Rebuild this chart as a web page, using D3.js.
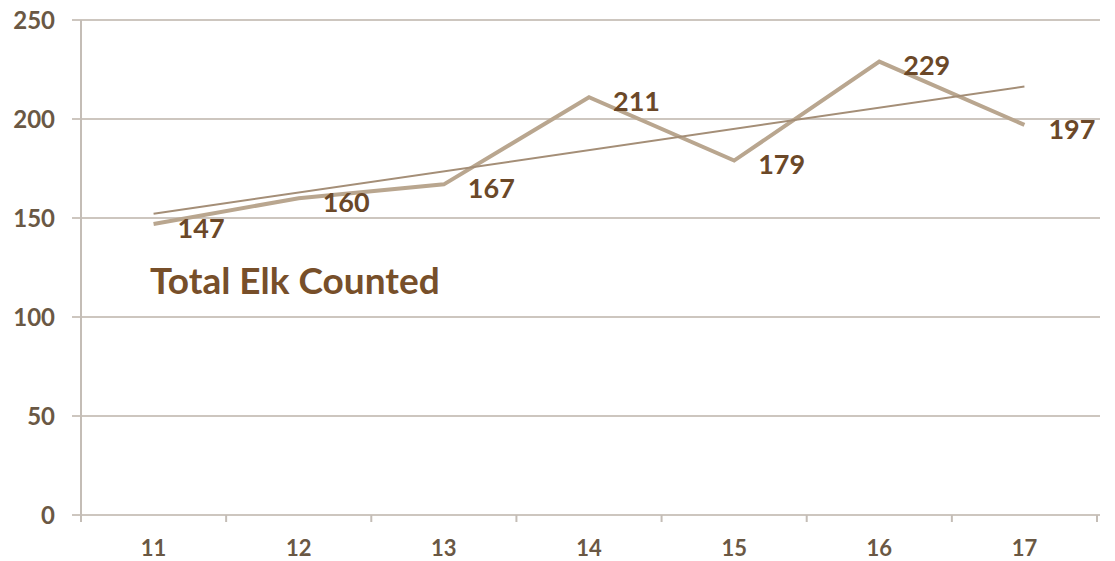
<!DOCTYPE html>
<html>
<head>
<meta charset="utf-8">
<script src="https://cdn.jsdelivr.net/npm/d3@7"></script>
<style>
  body { margin: 0; background: #fff; }
  text { font-family: Lato, "Open Sans", sans-serif; font-weight: bold; }
</style>
</head>
<body>
<svg id="chart"></svg>
<script>
// --------------------- data --------------------------
const years = ["11", "12", "13", "14", "15", "16", "17"];
const elkCounts = [147, 160, 167, 211, 179, 229, 197];
const yTicks = [0, 50, 100, 150, 200, 250];
const chartTitle = "Total Elk Counted";

// --------------------- layout --------------------------
const width = 1115, height = 561;
const plotLeft = 81, plotRight = 1097, plotTop = 20, plotBottom = 515;

const svg = d3.select("#chart")
  .attr("width", width)
  .attr("height", height);

const xScale = d3.scaleBand().domain(years).range([plotLeft, plotRight]);
const yScale = d3.scaleLinear().domain([0, 250]).range([plotBottom, plotTop]);
const cx = d => xScale(d) + xScale.bandwidth() / 2;

// grid lines
svg.append("g")
  .selectAll("line")
  .data(yTicks)
  .join("line")
  .attr("x1", plotLeft - 9)
  .attr("x2", plotRight + 3)
  .attr("y1", d => yScale(d))
  .attr("y2", d => yScale(d))
  .attr("stroke", "#cdc6bf")
  .attr("stroke-width", 2);

// y axis line
svg.append("line")
  .attr("x1", plotLeft).attr("x2", plotLeft)
  .attr("y1", plotTop).attr("y2", plotBottom + 6)
  .attr("stroke", "#c4bdb6")
  .attr("stroke-width", 2);

// y tick labels
svg.append("g")
  .selectAll("text")
  .data(yTicks)
  .join("text")
  .attr("x", 55)
  .attr("y", d => yScale(d))
  .attr("dy", "0.36em")
  .attr("text-anchor", "end")
  .attr("font-size", 24)
  .attr("fill", "#6a5844")
  .text(d => d);

// x axis: ticks between categories
const xBounds = years.map(d => xScale(d)).concat([plotRight]);
svg.append("g")
  .selectAll("line")
  .data(xBounds)
  .join("line")
  .attr("x1", d => d).attr("x2", d => d)
  .attr("y1", plotBottom).attr("y2", plotBottom + 7)
  .attr("stroke", "#c4bdb6")
  .attr("stroke-width", 2);

svg.append("g")
  .selectAll("text")
  .data(years)
  .join("text")
  .attr("x", d => cx(d))
  .attr("y", 556)
  .attr("text-anchor", "middle")
  .attr("font-size", 22)
  .attr("fill", "#6a5844")
  .text(d => d);

// --------------------- series --------------------------
const points = years.map((d, i) => ({ x: cx(d), y: yScale(elkCounts[i]), v: elkCounts[i] }));

svg.append("path")
  .datum(points)
  .attr("fill", "none")
  .attr("stroke", "#b9a68f")
  .attr("stroke-width", 4)
  .attr("stroke-linejoin", "miter")
  .attr("d", d3.line().x(d => d.x).y(d => d.y));

// linear trend line (least squares on category index)
const n = elkCounts.length;
const mx = d3.mean(d3.range(n));
const my = d3.mean(elkCounts);
const slope = d3.sum(d3.range(n), i => (i - mx) * (elkCounts[i] - my)) /
              d3.sum(d3.range(n), i => (i - mx) * (i - mx));
const trend = [0, n - 1].map(i => ({ x: cx(years[i]), y: yScale(my + slope * (i - mx)) }));

svg.append("path")
  .datum(trend)
  .attr("fill", "none")
  .attr("stroke", "#a48e77")
  .attr("stroke-width", 2)
  .attr("d", d3.line().x(d => d.x).y(d => d.y));

// data labels
svg.append("g")
  .selectAll("text")
  .data(points)
  .join("text")
  .attr("x", d => d.x + 24)
  .attr("y", d => d.y + 4)
  .attr("dy", "0.36em")
  .attr("font-size", 27)
  .attr("fill", "#6b4828")
  .text(d => d.v);

// chart title inside plot
svg.append("text")
  .attr("x", 150)
  .attr("y", 294)
  .attr("font-size", 37)
  .attr("fill", "#774f2a")
  .text(chartTitle);
</script>
</body>
</html>
